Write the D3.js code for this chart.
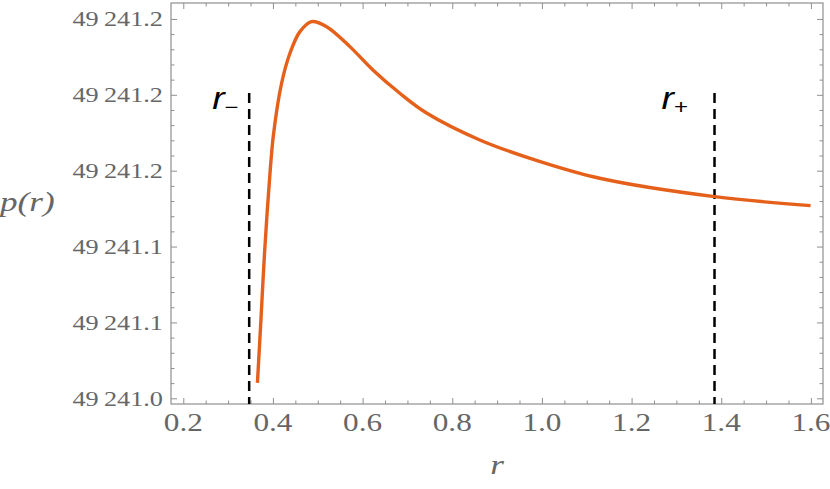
<!DOCTYPE html>
<html>
<head>
<meta charset="utf-8">
<script src="https://cdn.jsdelivr.net/npm/d3@7"></script>
<style>
  body { margin: 0; background: #fff; }
  text { font-family: "Liberation Serif", "Times New Roman", serif; }
</style>
</head>
<body>
<script>
var width = 830,
    height = 489

// curve
var rValues = [0.3654, 0.3732, 0.3810, 0.3899, 0.4011, 0.4193, 0.4379, 0.4602, 0.4862,
               0.5197, 0.5716, 0.6229, 0.6831, 0.7426, 0.8614, 0.9840, 1.1289, 1.3853, 1.5993]
var pValues = [49241.0481, 49241.0813, 49241.1156, 49241.1472, 49241.1788, 49241.2061,
               49241.2219, 49241.2333, 49241.2386, 49241.2359, 49241.2254, 49241.2131,
               49241.2008, 49241.1904, 49241.1762, 49241.1657, 49241.1560, 49241.1463, 49241.1416]

// horizon markers
var horizonR = [0.347, 1.385]
var horizonNames = ["\u2212", "+"]
var horizonTop = 49241.201

var xTicks = [0.2, 0.4, 0.6, 0.8, 1.0, 1.2, 1.4, 1.6]
var yTicks = [49241.04, 49241.08, 49241.12, 49241.16, 49241.20, 49241.24]

var pLeft = 171, pRight = 823, pTop = 3, pBottom = 404

var x = d3.scaleLinear().domain([0.1726, 1.627]).range([pLeft, pRight])
var y = d3.scaleLinear().domain([49241.037, 49241.2484]).range([pBottom, pTop])

var fmt = d3.formatLocale({decimal: ".", thousands: "\u2009", grouping: [3], currency: ["", ""]}).format(",.1f")

var svg = d3.select("body").append("svg")
    .attr("width", width)
    .attr("height", height);

var frameColor = "#8f8f8f", labelColor = "#666"

// minor ticks
var xMinor = d3.range(0.2, 1.6001, 0.05).filter(function(d) { return Math.abs(d * 5 - Math.round(d * 5)) > 1e-6; })
var yMinor = d3.range(0, 26).map(function(i) { return 49241.04 + i * 0.008; })
    .filter(function(d) { return d <= y.domain()[1] && i5(d) % 5 != 0; })
function i5(d) { return Math.round((d - 49241.04) / 0.008); }

function tickAxis(axis, scale, vals, size) {
  return axis(scale).tickValues(vals).tickSize(-size).tickFormat("");
}

var axes = [
  {a: d3.axisBottom, s: x, t: "translate(0," + pBottom + ")", major: xTicks, minor: xMinor},
  {a: d3.axisTop, s: x, t: "translate(0," + pTop + ")", major: xTicks, minor: xMinor},
  {a: d3.axisLeft, s: y, t: "translate(" + pLeft + ",0)", major: yTicks, minor: yMinor},
  {a: d3.axisRight, s: y, t: "translate(" + pRight + ",0)", major: yTicks, minor: yMinor}
]
axes.forEach(function(ax) {
  [[ax.major, 6], [ax.minor, 3.5]].forEach(function(p) {
    var g = svg.append("g").attr("transform", ax.t).call(tickAxis(ax.a, ax.s, p[0], p[1]))
    g.select(".domain").remove()
    g.selectAll("line").attr("stroke", frameColor).attr("stroke-width", 1)
  })
})

svg.append("rect")
    .attr("x", pLeft).attr("y", pTop)
    .attr("width", pRight - pLeft).attr("height", pBottom - pTop)
    .attr("fill", "none").attr("stroke", frameColor).attr("stroke-width", 1.2);

// tick labels (the picture is stretched sideways)
svg.selectAll(".xl")
    .data(xTicks)
  .enter().append("text")
    .attr("class", "xl")
    .attr("transform", function(d) { return "translate(" + x(d) + ",431) scale(1.25,1)"; })
    .attr("text-anchor", "middle")
    .attr("fill", labelColor)
    .attr("font-size", 25)
    .text(function(d) { return d.toFixed(1); });

svg.selectAll(".yl")
    .data(yTicks)
  .enter().append("text")
    .attr("class", "yl")
    .attr("transform", function(d) { return "translate(163," + (y(d) + 7.5) + ") scale(1.25,1)"; })
    .attr("text-anchor", "end")
    .attr("fill", labelColor)
    .attr("font-size", 21)
    .text(function(d) { return fmt(d); });

svg.append("text")
    .attr("transform", "translate(" + ((pLeft + pRight) / 2) + ",474) scale(1.3,1)")
    .attr("text-anchor", "middle")
    .attr("fill", labelColor)
    .attr("font-size", 27)
    .attr("font-style", "italic")
    .text("r");

svg.append("text")
    .attr("transform", "translate(0,211) scale(1.3,1)")
    .attr("fill", labelColor)
    .attr("font-size", 27)
    .attr("font-style", "italic")
    .text("p(r)");

// dashed horizon lines
svg.selectAll(".hz")
    .data(horizonR)
  .enter().append("line")
    .attr("class", "hz")
    .attr("x1", function(d) { return x(d); })
    .attr("x2", function(d) { return x(d); })
    .attr("y1", y(horizonTop))
    .attr("y2", pBottom)
    .attr("stroke", "#000")
    .attr("stroke-width", 2.5)
    .attr("stroke-dasharray", "10,6");

var hzOffset = [-37, -53]
var hzLabel = svg.selectAll(".hzl")
    .data(horizonR)
  .enter().append("text")
    .attr("class", "hzl")
    .attr("transform", function(d, i) { return "translate(" + (x(d) + hzOffset[i]) + ",109) scale(1.2,1)"; })
    .style("font-family", "'Liberation Sans', Arial, sans-serif")
    .attr("font-size", 31)
    .attr("font-style", "italic")
    .attr("fill", "#000");
hzLabel.append("tspan").text("r");
hzLabel.append("tspan")
    .attr("font-size", 20)
    .attr("font-style", "normal")
    .attr("dy", 5)
    .text(function(d, i) { return horizonNames[i]; });

var line = d3.line()
    .x(function(d, i) { return x(rValues[i]); })
    .y(function(d) { return y(d); })
    .curve(d3.curveCatmullRom.alpha(0.5));

svg.append("path")
    .datum(pValues)
    .attr("d", line)
    .attr("fill", "none")
    .attr("stroke", "#e5601a")
    .attr("stroke-width", 3.4);
</script>
</body>
</html>
